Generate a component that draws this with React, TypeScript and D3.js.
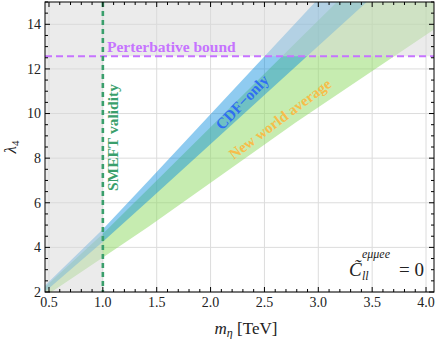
import React from 'react';
import * as d3 from 'd3';

// tick values
const mTicks = [0.5, 1.0, 1.5, 2.0, 2.5, 3.0, 3.5, 4.0];
const lamTicks = [2, 4, 6, 8, 10, 12, 14];

// CDF-only band (m in TeV, lambda lower / upper)
const cdfM = [0.4, 1.0, 1.43, 3.0, 4.5];
const cdfLow = [1.75, 4.25, 6.12, 13.03, 19.6];
const cdfHigh = [2.0, 4.81, 7.02, 15.15, 22.9];

// new world average band
const nwaM = [0.4, 1.0, 1.43, 2.79, 4.1, 4.5];
const nwaLow = [1.6, 3.55, 4.95, 9.6, 13.85, 15.3];
const nwaHigh = [1.95, 4.61, 6.66, 13.17, 19.43, 21.34];

const smeftM = 1.0;
const pertBound = 4 * Math.PI;

const W = 436;
const H = 339;
const left = 45, right = 434, top = 2, bottom = 292;
const serif = "Times New Roman, Liberation Serif, DejaVu Serif, serif";

export default function App() {
    const x = d3.scaleLinear().domain([0.463, 4.074]).range([left, right]);
    const y = d3.scaleLinear().domain([2, 15]).range([bottom, top]);

    const area = d3.area<[number, number, number]>()
        .x(d => x(d[0]))
        .y0(d => y(d[1]))
        .y1(d => y(d[2]));

    const cdfData = cdfM.map((m, i) => [m, cdfLow[i], cdfHigh[i]] as [number, number, number]);
    const nwaData = nwaM.map((m, i) => [m, nwaLow[i], nwaHigh[i]] as [number, number, number]);

    const xMinor = d3.range(0.5, 4.05, 0.1);
    const yMinor = d3.range(2, 15.01, 0.5);

    // gray excluded region: left of SMEFT line and above perturbative bound
    const x0 = x.range()[0], x1 = x.range()[1];
    const gray = `M${x0},${y(2)}L${x0},${y(15)}L${x1},${y(15)}L${x1},${y(pertBound)}` +
        `L${x(smeftM)},${y(pertBound)}L${x(smeftM)},${y(2)}Z`;

    const tf = { fontFamily: serif };

    return (
        <svg width={W} height={H} style={{ position: 'absolute', left: 0, top: 0, background: '#fff' }}>
            <defs>
                <clipPath id="plot">
                    <rect x={left} y={top} width={right - left} height={bottom - top} />
                </clipPath>
            </defs>

            {/* grid */}
            <g stroke="#dcdcdc" strokeWidth={1}>
                {mTicks.map(t => <line key={'gx' + t} x1={x(t)} x2={x(t)} y1={top} y2={bottom} />)}
                {lamTicks.map(t => <line key={'gy' + t} x1={left} x2={right} y1={y(t)} y2={y(t)} />)}
            </g>

            <g clipPath="url(#plot)">
                <path d={area(nwaData) || ''} fill="rgb(141,217,97)" fillOpacity={0.5} />
                <path d={area(cdfData) || ''} fill="rgb(0,137,221)" fillOpacity={0.44} />
                <path d={gray} fill="rgb(215,215,215)" fillOpacity={0.5} />

                <line x1={left} x2={right} y1={y(pertBound)} y2={y(pertBound)}
                    stroke="#c673ff" strokeWidth={2} strokeDasharray="7,4" />
                <line x1={x(smeftM)} x2={x(smeftM)} y1={top} y2={bottom}
                    stroke="#3a9f6c" strokeWidth={2.6} strokeDasharray="5,4" />
            </g>

            {/* labels in plot */}
            <text style={tf} x={107} y={52} fontSize={15.5} fontWeight="bold" fill="#c673ff">Perterbative bound</text>
            <text style={tf} transform="translate(118,191) rotate(-90)" fontSize={15.5} fontWeight="bold" fill="#3a9f6c">SMEFT validity</text>
            <text style={tf} transform="translate(242,102) rotate(-46)" textAnchor="middle" dominantBaseline="central"
                fontSize={15.5} fontWeight="bold" fill="#2f6ef2">CDF−only</text>
            <text style={tf} transform="translate(280,119) rotate(-37)" textAnchor="middle" dominantBaseline="central"
                fontSize={15} fontWeight="bold" fill="#f7bd4a">New world average</text>

            {/* C tilde annotation */}
            <g fill="#222" style={tf}>
                <text x={349} y={276} fontSize={19} fontStyle="italic">C&#x0303;</text>
                <text x={362} y={258} fontSize={12} fontStyle="italic">eμμee</text>
                <text x={362} y={280} fontSize={12} fontStyle="italic">ll</text>
                <text x={399} y={276} fontSize={19}>= 0</text>
            </g>

            {/* frame */}
            <rect x={left} y={top} width={right - left} height={bottom - top} fill="none" stroke="#000" strokeWidth={1} />

            {/* ticks */}
            <g stroke="#000" strokeWidth={1}>
                {xMinor.map((t, i) => {
                    const major = mTicks.some(m => Math.abs(m - t) < 1e-6);
                    const len = major ? 5 : 3;
                    return (
                        <g key={'xt' + i}>
                            <line x1={x(t)} x2={x(t)} y1={bottom} y2={bottom - len} />
                            <line x1={x(t)} x2={x(t)} y1={top} y2={top + len} />
                        </g>
                    );
                })}
                {yMinor.map((t, i) => {
                    const major = lamTicks.some(m => Math.abs(m - t) < 1e-6);
                    const len = major ? 5 : 3;
                    return (
                        <g key={'yt' + i}>
                            <line x1={left} x2={left + len} y1={y(t)} y2={y(t)} />
                            <line x1={right} x2={right - len} y1={y(t)} y2={y(t)} />
                        </g>
                    );
                })}
            </g>

            {/* tick labels */}
            <g fontSize={14} fill="#222" style={tf}>
                {mTicks.map(t => (
                    <text key={'xl' + t} x={x(t)} y={307} textAnchor="middle">{d3.format('.1f')(t)}</text>
                ))}
                {lamTicks.map(t => (
                    <text key={'yl' + t} x={41} y={y(t)} dy="0.35em" textAnchor="end">{t}</text>
                ))}
            </g>

            {/* axis titles */}
            <text style={tf} x={246} y={334} textAnchor="middle" fontSize={17} fill="#222">
                <tspan fontStyle="italic">m</tspan>
                <tspan fontStyle="italic" fontSize={12} dy={3}>η</tspan>
                <tspan dy={-3}> [TeV]</tspan>
            </text>
            <text style={tf} transform={`translate(16,${(top + bottom) / 2}) rotate(-90)`} textAnchor="middle" fontSize={17} fill="#222">
                <tspan fontStyle="italic">λ</tspan>
                <tspan fontSize={11} dy={3}>4</tspan>
            </text>
        </svg>
    );
}
